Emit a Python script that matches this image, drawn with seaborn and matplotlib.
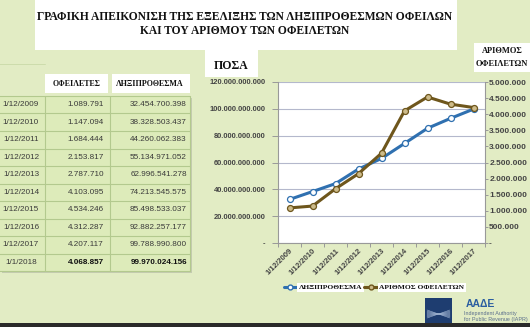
import matplotlib
matplotlib.use("Agg")
import matplotlib.pyplot as plt
import seaborn as sns
import pandas as pd
from matplotlib.patches import Rectangle
from matplotlib.lines import Line2D

# ---------------- data ----------------
categories = ["1/12/2009", "1/12/2010", "1/12/2011", "1/12/2012", "1/12/2013",
              "1/12/2014", "1/12/2015", "1/12/2016", "1/12/2017"]
amounts = [32454700398, 38328503437, 44260062383, 55134971052, 62996541278,
           74213545575, 85498533037, 92882257177, 99788990800]
debtors = [1089791, 1147094, 1684444, 2153817, 2787710,
           4103095, 4534246, 4312287, 4207117]

table_dates = categories + ["1/1/2018"]
table_debtors = ["1.089.791", "1.147.094", "1.684.444", "2.153.817", "2.787.710",
                 "4.103.095", "4.534.246", "4.312.287", "4.207.117", "4.068.857"]
table_amounts = ["32.454.700.398", "38.328.503.437", "44.260.062.383", "55.134.971.052",
                 "62.996.541.278", "74.213.545.575", "85.498.533.037", "92.882.257.177",
                 "99.788.990.800", "99.970.024.156"]

left_ticks = [0, 20e9, 40e9, 60e9, 80e9, 100e9, 120e9]
right_ticks = [0, 500000, 1000000, 1500000, 2000000, 2500000, 3000000,
               3500000, 4000000, 4500000, 5000000]

title_lines = ["ΓΡΑΦΙΚΗ ΑΠΕΙΚΟΝΙΣΗ ΤΗΣ ΕΞΕΛΙΞΗΣ ΤΩΝ ΛΗΞΙΠΡΟΘΕΣΜΩΝ ΟΦΕΙΛΩΝ",
               "ΚΑΙ ΤΟΥ ΑΡΙΘΜΟΥ ΤΩΝ ΟΦΕΙΛΕΤΩΝ"]
label_amount = "ΛΗΞΙΠΡΟΘΕΣΜΑ"
label_debtors = "ΑΡΙΘΜΟΣ ΟΦΕΙΛΕΤΩΝ"

df = pd.DataFrame({"date": categories, "amount": amounts, "debtors": debtors})

# ---------------- style ----------------
sns.set_theme(style="white")
plt.rcParams["font.family"] = ["Liberation Sans", "DejaVu Sans"]

W, H = 530, 327
BG = "#E2ECC4"
CELL = "#DDEBBA"
GRIDC = "#B3C98E"
BLUE = "#2F70B0"
BROWN = "#6E561C"
TAN = "#CDBB8A"
SERIF = ["Liberation Serif", "DejaVu Serif"]

fig = plt.figure(figsize=(W / 100, H / 100), dpi=100, facecolor=BG)


def fx(x):
    return x / W


def fy(y):
    return 1 - y / H


def frect(x0, y0, x1, y1, **kw):
    fig.patches.append(Rectangle((fx(x0), fy(y1)), (x1 - x0) / W, (y1 - y0) / H,
                                 transform=fig.transFigure, figure=fig, **kw))


def fmt(v):
    return "-" if v == 0 else f"{v:,.0f}".replace(",", ".")


# title box
frect(35, 0, 457, 50, facecolor="white", edgecolor="none")
fig.text(fx(245), fy(17), title_lines[0], ha="center", va="center",
         family=SERIF, weight="bold", fontsize=8.3, color="#111111")
fig.text(fx(245), fy(31), title_lines[1], ha="center", va="center",
         family=SERIF, weight="bold", fontsize=8.3, color="#111111")

# ---------------- table ----------------
row_top = 96
row_h = 17.5
col_edges = [-2, 45, 110, 190]
n_rows = len(table_dates)
tbl_bottom = row_top + n_rows * row_h
# shadow
frect(2, row_top + 2, 192, tbl_bottom + 2, facecolor="#C4CCB0", edgecolor="none")
frect(-2, row_top, 190, tbl_bottom, facecolor=CELL, edgecolor="none")
for i in range(n_rows + 1):
    y = row_top + i * row_h
    fig.add_artist(Line2D([fx(-2), fx(190)], [fy(y), fy(y)], color=GRIDC, lw=0.8,
                          transform=fig.transFigure))
for xe in col_edges[1:]:
    fig.add_artist(Line2D([fx(xe), fx(xe)], [fy(row_top), fy(tbl_bottom)], color=GRIDC,
                          lw=0.8, transform=fig.transFigure))
fig.add_artist(Line2D([fx(-2), fx(45)], [fy(64), fy(64)], color="#C9D9A8", lw=0.6,
                      transform=fig.transFigure))

# header boxes
frect(45, 74, 108, 93, facecolor="white", edgecolor="none")
frect(112, 74, 190, 93, facecolor="white", edgecolor="none")
fig.text(fx(76.5), fy(84), "ΟΦΕΙΛΕΤΕΣ", ha="center", va="center", family=SERIF,
         weight="bold", fontsize=5.8, color="#111111")
fig.text(fx(150), fy(84), "ΛΗΞΙΠΡΟΘΕΣΜΑ", ha="center", va="center", family=SERIF,
         weight="bold", fontsize=5.8, color="#111111")

for i in range(n_rows):
    yc = row_top + i * row_h + row_h / 2
    last = i == n_rows - 1
    w = "bold" if last else "normal"
    c = "#111111" if last else "#3A3A3A"
    fig.text(fx(21), fy(yc), table_dates[i], ha="center", va="center", fontsize=5.9,
             color="#3A3A3A")
    fig.text(fx(104), fy(yc), table_debtors[i], ha="right", va="center", fontsize=5.9,
             color=c, weight=w)
    fig.text(fx(187), fy(yc), table_amounts[i], ha="right", va="center", fontsize=5.9,
             color=c, weight=w)

# ---------------- chart ----------------
ax = fig.add_axes([fx(278), fy(243), 207 / W, 161 / H])
ax.set_facecolor("white")
sns.lineplot(data=df, x="date", y="amount", ax=ax, color=BLUE, lw=2.2, marker="o",
             markersize=4.3, markerfacecolor="white", markeredgecolor=BLUE,
             markeredgewidth=0.9, sort=False, legend=False)
ax.set_xlim(-0.5, len(categories) - 0.5)
ax.set_ylim(0, 120e9)
ax.set_yticks(left_ticks)
ax.set_yticklabels([fmt(v) for v in left_ticks])
ax.yaxis.grid(True, color="#B4B8CC", lw=0.8)
ax.set_axisbelow(True)
ax.set_xlabel("")
ax.set_ylabel("")

ax2 = ax.twinx()
sns.lineplot(data=df, x="date", y="debtors", ax=ax2, color=BROWN, lw=2.2, marker="o",
             markersize=4.3, markerfacecolor=TAN, markeredgecolor=BROWN,
             markeredgewidth=0.9, sort=False, legend=False)
ax2.set_ylim(0, 5e6)
ax2.set_yticks(right_ticks)
ax2.set_yticklabels([fmt(v) for v in right_ticks])
ax2.set_ylabel("")
ax2.set_xlim(-0.5, len(categories) - 0.5)

ax.set_xticks(range(len(categories)))
ax.set_xticklabels(categories, rotation=45, ha="right", va="top", rotation_mode="anchor",
                   fontsize=5.6, weight="bold", color="#444444")
ax.set_xticks([i - 0.5 for i in range(len(categories) + 1)], minor=True)
ax.tick_params(axis="x", which="major", length=0, pad=3)
ax.tick_params(axis="x", which="minor", length=3, color="#999999", width=0.7,
               direction="out", bottom=True)
ax.tick_params(axis="y", length=4, color="#999999", width=0.7, pad=5, left=True,
               labelsize=5.4, labelcolor="#444444")
for t in ax.get_yticklabels():
    t.set_fontweight("bold")
ax2.tick_params(axis="y", length=2, color="#999999", width=0.7, pad=1, right=True,
                labelsize=6.0, labelcolor="#444444")
for t in ax2.get_yticklabels():
    t.set_fontweight("bold")

for a in (ax, ax2):
    for s in a.spines.values():
        s.set_visible(False)
ax.spines["left"].set_visible(True)
ax.spines["bottom"].set_visible(True)
ax2.spines["right"].set_visible(True)
for s in (ax.spines["left"], ax.spines["bottom"], ax2.spines["right"]):
    s.set_color("#999999")
    s.set_linewidth(0.8)

# axis title boxes
frect(205, 50, 258, 77, facecolor="white", edgecolor="none")
fig.text(fx(231), fy(66), "ΠΟΣΑ", ha="center", va="center", family=SERIF,
         weight="bold", fontsize=8.5, color="#111111")
frect(474, 43, 532, 72, facecolor="white", edgecolor="none")
fig.text(fx(502), fy(51), "ΑΡΙΘΜΟΣ", ha="center", va="center", family=SERIF,
         weight="bold", fontsize=6.0, color="#111111")
fig.text(fx(502), fy(64), "ΟΦΕΙΛΕΤΩΝ", ha="center", va="center", family=SERIF,
         weight="bold", fontsize=6.0, color="#111111")

# legend
handles = [Line2D([], [], color=BLUE, lw=2.2, marker="o", markersize=3.5,
                  markerfacecolor="white", markeredgecolor=BLUE),
           Line2D([], [], color=BROWN, lw=2.2, marker="o", markersize=3.5,
                  markerfacecolor=TAN, markeredgecolor=BROWN)]
leg = fig.legend(handles, [label_amount, label_debtors], loc="center",
                 bbox_to_anchor=(fx(374), fy(287)), ncol=2, frameon=False,
                 handlelength=1.8, handletextpad=0.2, columnspacing=0.3,
                 prop={"family": SERIF, "weight": "bold", "size": 5.4})
for t in leg.get_texts():
    t.set_color("#111111")
    t.set_bbox(dict(facecolor="white", edgecolor="none", pad=1.2))

# logo
frect(425, 298, 452, 323, facecolor="#1E3D70", edgecolor="none")
for k in range(4):
    fig.add_artist(Line2D([fx(427), fx(450)], [fy(318 - k * 1.2), fy(310 + k * 1.2)],
                          color="#9FB3D0", lw=0.4, transform=fig.transFigure))
    fig.add_artist(Line2D([fx(427), fx(450)], [fy(310 + k * 1.2), fy(318 - k * 1.2)],
                          color="#9FB3D0", lw=0.4, transform=fig.transFigure))
fig.text(fx(466), fy(304), "ΑΑΔΕ", ha="left", va="center", weight="bold",
         fontsize=7.5, color="#2A5DA0")
fig.text(fx(464), fy(313.5), "Independent Authority", ha="left", va="center",
         fontsize=3.9, color="#5A6E8C")
fig.text(fx(464), fy(319.5), "for Public Revenue (IAPR)", ha="left", va="center",
         fontsize=3.9, color="#5A6E8C")

# bottom dark bar
frect(0, 323, 530, 328, facecolor="#2A2A2A", edgecolor="none")

fig.savefig("out.png", dpi=100, facecolor=BG)
